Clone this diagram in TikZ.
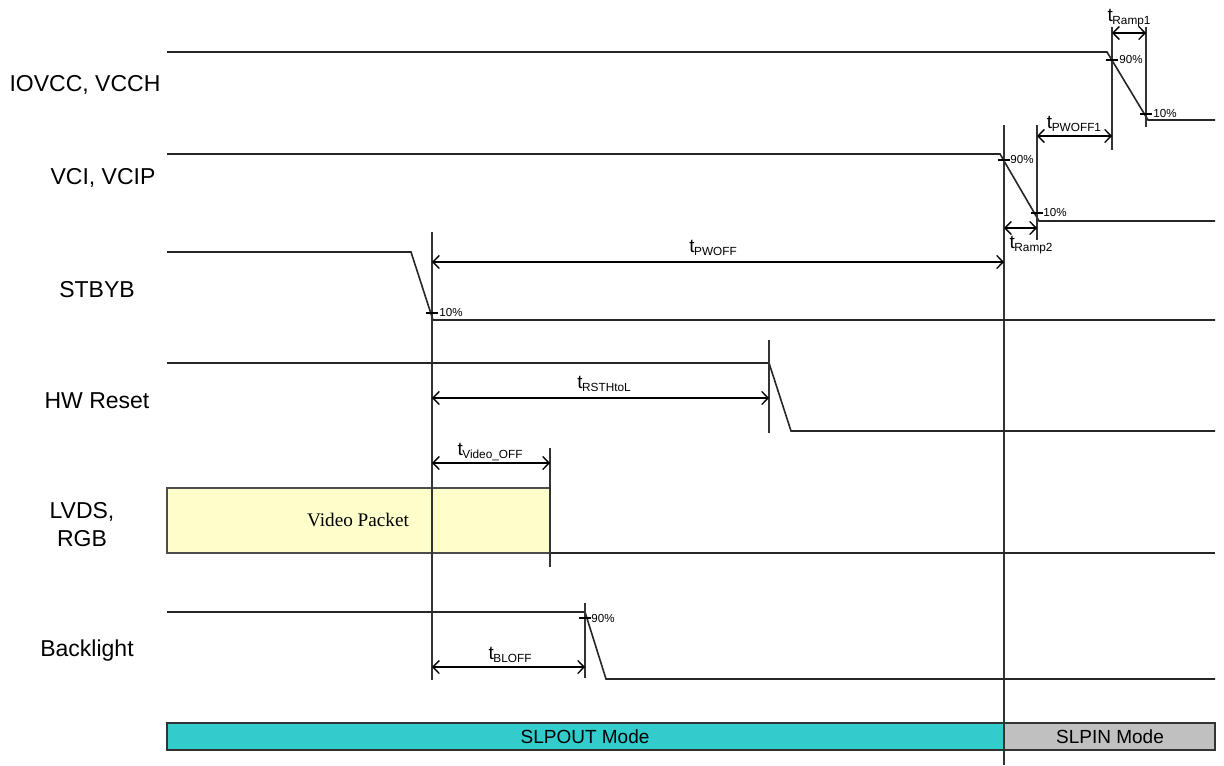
\documentclass[tikz,border=0pt]{standalone}
\usepackage{fontspec}
\setmainfont{Liberation Sans}
\newfontfamily\serifvp{Liberation Serif}
\usetikzlibrary{arrows.meta}
\definecolor{vidyellow}{HTML}{FFFFCC}
\definecolor{slpcyan}{HTML}{33CCCC}
\definecolor{slpgray}{HTML}{C0C0C0}
\newcommand\tsub[1]{t\kern-0.2pt\raisebox{-0.35ex}{\fontsize{5.9}{6}\selectfont #1}}
\begin{document}
\begin{tikzpicture}[x=0.5pt,y=-0.5pt,
  sig/.style={line width=0.8pt,black!85},
  guide/.style={line width=0.7pt,black!80},
  dim/.style={line width=0.65pt,{Straight Barb[length=3.2pt,width=6.5pt]}-{Straight Barb[length=3.2pt,width=6.5pt]}},
  siglabel/.style={font=\fontsize{11.5}{13}\selectfont,align=center},
  tlabel/.style={font=\fontsize{9.5}{10}\selectfont,inner sep=0pt},
  pct/.style={font=\fontsize{5.8}{6}\selectfont,inner sep=0pt,anchor=west},
  tick/.style={line width=0.65pt}]
\useasboundingbox (0,0) rectangle (1224,765);
% signal names
\node[siglabel] (nIO) at (85,85) {IOVCC, VCCH};
\node[siglabel] (nVCI) at (103,178) {VCI, VCIP};
\node[siglabel] (nSTB) at (97,290) {STBYB};
\node[siglabel] (nHW) at (97,401) {HW Reset};
\node[siglabel] (nLV) at (82,525) {LVDS,\\[1pt]RGB};
\node[siglabel] (nBL) at (87,651) {Backlight};
% IOVCC
\draw[sig] (167,52) -- (1107,52) -- (1148,120) -- (1215,120);
\draw[guide] (1112,27) -- (1112,150);
\draw[guide] (1146,27) -- (1146,127);
\draw[tick] (1106,60) -- (1118,60);
\draw[tick] (1140,114) -- (1152,114);
\node[pct] (p1) at (1119,60) {90\%};
\node[pct] (p2) at (1153,114) {10\%};
\coordinate (r1a) at (1112,33); \coordinate (r1b) at (1146,33);
\draw[dim] (r1a) -- (r1b);
\node[tlabel] (lr1) at (1129,18) {\tsub{Ramp1}};
% VCI
\draw[sig] (167,154) -- (1000,154) -- (1039,221) -- (1215,221);
\draw[guide] (1004,125) -- (1004,765);
\draw[guide] (1037,125) -- (1037,240);
\draw[tick] (998,160) -- (1010,160);
\draw[tick] (1031,213) -- (1043,213);
\node[pct] (p3) at (1010,160) {90\%};
\node[pct] (p4) at (1043,213) {10\%};
\coordinate (pw1a) at (1037,136); \coordinate (pw1b) at (1112,136);
\draw[dim] (pw1a) -- (pw1b);
\node[tlabel] (lpw1) at (1074,124) {\tsub{PWOFF1}};
\coordinate (r2a) at (1004,228); \coordinate (r2b) at (1037,228);
\draw[dim] (r2a) -- (r2b);
\node[tlabel] (lr2) at (1031,245) {\tsub{Ramp2}};
% STBYB
\draw[sig] (167,252) -- (411,252) -- (433,320) -- (1215,320);
\draw[guide] (432,232) -- (432,680);
\draw[tick] (426,313) -- (438,313);
\node[pct] (p5) at (439,313) {10\%};
\coordinate (pwa) at (432,262); \coordinate (pwb) at (1004,262);
\draw[dim] (pwa) -- (pwb);
\node[tlabel] (lpw) at (713,248) {\tsub{PWOFF}};
% HW Reset
\draw[sig] (167,363) -- (769,363) -- (791,431) -- (1215,431);
\draw[guide] (769,340) -- (769,433);
\coordinate (rsa) at (432,398); \coordinate (rsb) at (769,398);
\draw[dim] (rsa) -- (rsb);
\node[tlabel] (lrs) at (604,384) {\tsub{RSTHtoL}};
% LVDS
\draw[line width=0.75pt,black!70,fill=vidyellow] (167,488) rectangle (550,553);
\node[font=\serifvp\fontsize{9.6}{11}\selectfont] (vp) at (358,520) {Video Packet};
\draw[sig] (550,553) -- (1215,553);
\draw[guide] (550,448) -- (550,567);
\draw[guide] (432,480) -- (432,570);
\coordinate (vda) at (432,463); \coordinate (vdb) at (550,463);
\draw[dim] (vda) -- (vdb);
\node[tlabel] (lvd) at (490,452) {\tsub{Video\_OFF}};
% Backlight
\draw[sig] (167,612) -- (585,612) -- (606,679) -- (1215,679);
\draw[guide] (585,603) -- (585,678);
\draw[tick] (579,618) -- (591,618);
\node[pct] (p6) at (591,618) {90\%};
\coordinate (bla) at (432,667); \coordinate (blb) at (585,667);
\draw[dim] (bla) -- (blb);
\node[tlabel] (lbl) at (510,655) {\tsub{BLOFF}};
% mode bar
\draw[line width=0.75pt,black!80,fill=slpcyan] (167,723) rectangle (1004,750);
\draw[line width=0.75pt,black!80,fill=slpgray] (1004,723) rectangle (1215,750);
\node[font=\fontsize{9.5}{11}\selectfont] (m1) at (585,737) {SLPOUT Mode};
\node[font=\fontsize{9.5}{11}\selectfont] (m2) at (1110,737) {SLPIN Mode};
\draw[guide] (1004,700) -- (1004,765);
\end{tikzpicture}
\end{document}
